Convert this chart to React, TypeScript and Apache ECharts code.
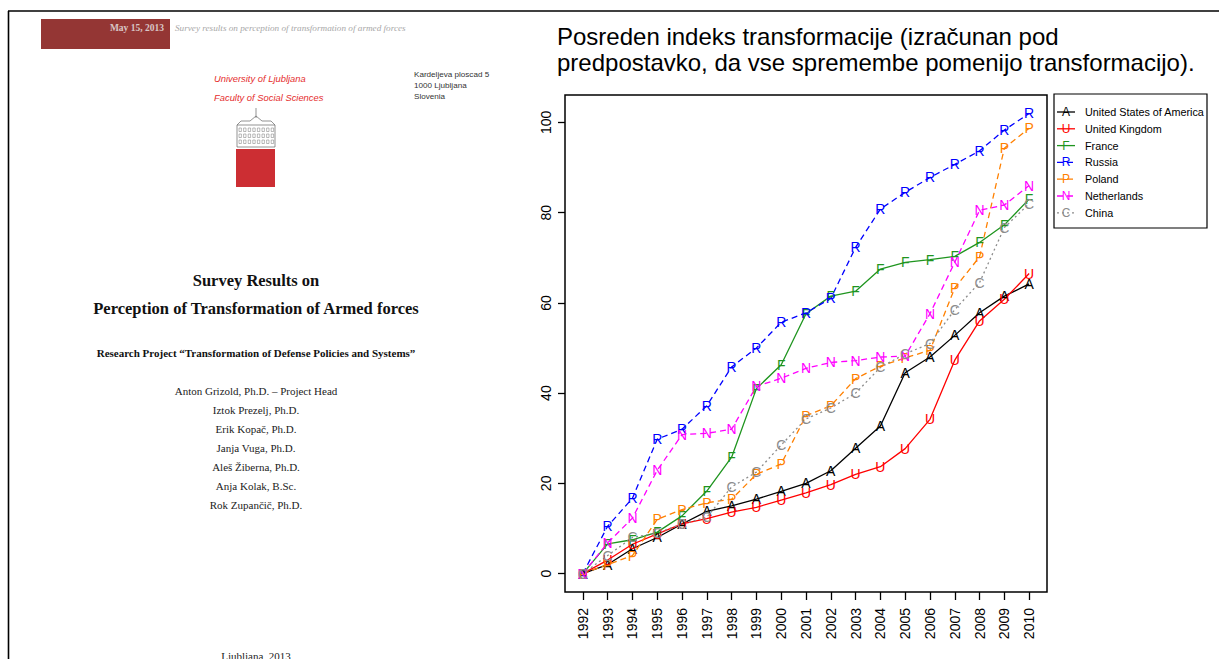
import React, { useEffect, useRef } from "react";
import * as echarts from "echarts";

const years = [1992, 1993, 1994, 1995, 1996, 1997, 1998, 1999, 2000, 2001, 2002, 2003, 2004, 2005, 2006, 2007, 2008, 2009, 2010];
const yTicks = [0, 20, 40, 60, 80, 100];

const usa = [0, 2, 5.5, 8, 11, 13.8, 15, 16.5, 18.2, 20, 22.8, 27.8, 32.7, 44.5, 48, 52.8, 57.8, 61.5, 64.2];
const uk = [0, 3, 6.5, 8.8, 11, 12.2, 13.6, 14.7, 16.3, 17.9, 19.7, 22, 23.7, 27.7, 34.2, 47.3, 56, 60.8, 66.5];
const france = [0, 6.6, 7.5, 9.2, 12.8, 18.3, 25.8, 41, 46.3, 57.6, 61.5, 62.6, 67.5, 69, 69.6, 70.3, 73.4, 77.3, 83];
const russia = [0, 10.5, 16.7, 29.8, 32, 37.2, 45.8, 50, 55.7, 57.8, 61, 72.3, 80.8, 84.5, 87.8, 90.7, 93.7, 98.3, 102];
const poland = [0, 2, 4, 12, 14.2, 15.7, 16.5, 22, 24.3, 35, 37.2, 43.2, 46, 47.8, 49.5, 63.3, 70.2, 94.3, 98.7];
const netherlands = [0, 6.8, 12.3, 22.9, 30.8, 31.1, 32, 41.5, 43.3, 45.5, 46.8, 47.2, 48, 48.2, 57.6, 69, 80.5, 81.7, 86];
const china = [0, 4, 8, 9, 11, 12.5, 19.2, 22.5, 28.5, 34.3, 36.7, 40, 45.7, 48.7, 51, 58.5, 64.5, 76.7, 82];

const seriesDefs = [
  { name: "United States of America", letter: "A", color: "#000000", dash: "solid", data: usa },
  { name: "United Kingdom", letter: "U", color: "#ff0000", dash: "solid", data: uk },
  { name: "France", letter: "F", color: "#1f951f", dash: "solid", data: france },
  { name: "Russia", letter: "R", color: "#0000ff", dash: [6, 4], data: russia },
  { name: "Poland", letter: "P", color: "#ff8000", dash: [6, 4], data: poland },
  { name: "Netherlands", letter: "N", color: "#ff00ff", dash: [6, 4], data: netherlands },
  { name: "China", letter: "C", color: "#8c8c8c", dash: [2, 3], data: china },
];

const titleLines = [
  "Posreden indeks transformacije (izračunan pod",
  "predpostavko, da vse spremembe pomenijo transformacijo).",
];

const authors = [
  "Anton Grizold, Ph.D. – Project Head",
  "Iztok Prezelj, Ph.D.",
  "Erik Kopač, Ph.D.",
  "Janja Vuga, Ph.D.",
  "Aleš Žiberna, Ph.D.",
  "Anja Kolak, B.Sc.",
  "Rok Zupančič, Ph.D.",
];

const address = ["Kardeljeva ploscad 5", "1000 Ljubljana", "Slovenia"];

export default function App() {
  const ref = useRef<HTMLDivElement>(null);
  useEffect(() => {
    if (!ref.current) return;
    const chart = echarts.init(ref.current, undefined, { renderer: "svg" });
    const sans = "'Liberation Sans', Arial, sans-serif";
    const serif = "'Liberation Serif', 'Times New Roman', serif";

    const graphics: any[] = [];
    // outer page frame
    graphics.push({ type: "line", shape: { x1: 8, y1: 11, x2: 1219, y2: 11 }, style: { stroke: "#000", lineWidth: 1.6 } });
    graphics.push({ type: "line", shape: { x1: 8.5, y1: 11, x2: 8.5, y2: 659 }, style: { stroke: "#000", lineWidth: 1.6 } });
    // banner
    graphics.push({ type: "rect", shape: { x: 41, y: 19, width: 129, height: 30 }, style: { fill: "#943634" } });
    graphics.push({ type: "text", x: 164, y: 28, style: { text: "May 15, 2013", fill: "#d9c6c6", font: `bold 9.5px ${serif}`, textAlign: "right", textVerticalAlign: "middle" } });
    graphics.push({ type: "text", x: 175, y: 28, style: { text: "Survey results on perception of transformation of armed forces", fill: "#a8a8a8", font: `italic 9.2px ${serif}`, textAlign: "left", textVerticalAlign: "middle" } });
    graphics.push({ type: "text", x: 214, y: 78, style: { text: "University of Ljubljana", fill: "#e52d2d", font: `italic 9.4px ${sans}`, textAlign: "left", textVerticalAlign: "middle" } });
    graphics.push({ type: "text", x: 214, y: 97, style: { text: "Faculty of Social Sciences", fill: "#e52d2d", font: `italic 9.4px ${sans}`, textAlign: "left", textVerticalAlign: "middle" } });
    address.forEach((t, i) => {
      graphics.push({ type: "text", x: 414, y: 74 + i * 11.3, style: { text: t, fill: "#333", font: `8.1px ${sans}`, textAlign: "left", textVerticalAlign: "middle" } });
    });
    // logo building
    const g = "#666";
    graphics.push({ type: "rect", shape: { x: 237, y: 125, width: 38, height: 22 }, style: { fill: "none", stroke: g, lineWidth: 0.7 } });
    graphics.push({ type: "polyline", shape: { points: [[237, 125], [241, 121], [250, 121], [256, 116], [262, 121], [271, 121], [275, 125]] }, style: { fill: "none", stroke: g, lineWidth: 0.7 } });
    graphics.push({ type: "line", shape: { x1: 256, y1: 108, x2: 256, y2: 118 }, style: { stroke: g, lineWidth: 0.7 } });
    for (let r = 0; r < 3; r++) {
      for (let c = 0; c < 8; c++) {
        graphics.push({ type: "rect", shape: { x: 239 + c * 4.6, y: 128 + r * 6, width: 2.4, height: 3.5 }, style: { fill: "none", stroke: "#777", lineWidth: 0.5 } });
      }
    }
    graphics.push({ type: "rect", shape: { x: 236, y: 149, width: 39, height: 38 }, style: { fill: "#cc2e33" } });
    // doc titles
    graphics.push({ type: "text", x: 256, y: 280, style: { text: "Survey Results on", fill: "#111", font: `bold 16.5px ${serif}`, textAlign: "center", textVerticalAlign: "middle" } });
    graphics.push({ type: "text", x: 256, y: 308.5, style: { text: "Perception of Transformation of Armed forces", fill: "#111", font: `bold 16.5px ${serif}`, textAlign: "center", textVerticalAlign: "middle" } });
    graphics.push({ type: "text", x: 256, y: 353, style: { text: "Research Project “Transformation of Defense Policies and Systems”", fill: "#111", font: `bold 11px ${serif}`, textAlign: "center", textVerticalAlign: "middle" } });
    authors.forEach((t, i) => {
      graphics.push({ type: "text", x: 256, y: 391 + i * 19, style: { text: t, fill: "#222", font: `11px ${serif}`, textAlign: "center", textVerticalAlign: "middle" } });
    });
    graphics.push({ type: "text", x: 256, y: 656, style: { text: "Ljubljana, 2013", fill: "#222", font: `11px ${serif}`, textAlign: "center", textVerticalAlign: "middle" } });

    // chart title
    titleLines.forEach((t, i) => {
      graphics.push({ type: "text", x: 557, y: 36 + i * 26, style: { text: t, fill: "#000", font: `24px ${sans}`, textAlign: "left", textVerticalAlign: "middle" } });
    });

    // legend
    graphics.push({ type: "rect", shape: { x: 1054, y: 94, width: 153, height: 134 }, style: { fill: "#fff", stroke: "#000", lineWidth: 1.2 } });
    seriesDefs.forEach((s, i) => {
      const y = 112 + i * 16.8;
      graphics.push({ type: "line", shape: { x1: 1057, y1: y, x2: 1075, y2: y }, style: { stroke: s.color, lineWidth: 1.3, lineDash: s.dash === "solid" ? null : s.dash } });
      graphics.push({ type: "text", x: 1066, y: y, style: { text: s.letter, fill: s.color, font: `12px ${sans}`, textAlign: "center", textVerticalAlign: "middle" } });
      graphics.push({ type: "text", x: 1085, y: y, style: { text: s.name, fill: "#000", font: `10.8px ${sans}`, textAlign: "left", textVerticalAlign: "middle" } });
    });

    chart.setOption({
      animation: false,
      backgroundColor: "#fff",
      grid: { left: 565, right: 172, top: 95, bottom: 67, show: true, borderColor: "#000", borderWidth: 1.5, backgroundColor: "transparent" },
      xAxis: {
        type: "value",
        min: 1991.28,
        max: 2010.72,
        axisLine: { show: false, onZero: false },
        splitLine: { show: false },
        axisTick: { show: true, length: 8, lineStyle: { color: "#000", width: 1.3 }, customValues: years },
        axisLabel: { show: true, rotate: 90, margin: 16, fontSize: 14, color: "#000", fontFamily: sans, customValues: years, formatter: (v: number) => String(v) },
      },
      yAxis: {
        type: "value",
        min: -4.08,
        max: 106.08,
        axisLine: { show: false, onZero: false },
        splitLine: { show: false },
        axisTick: { show: true, length: 7, lineStyle: { color: "#000", width: 1.3 }, customValues: yTicks },
        axisLabel: { show: true, rotate: 90, margin: 12, fontSize: 14, color: "#000", fontFamily: sans, customValues: yTicks, formatter: (v: number) => String(v) },
      },
      series: seriesDefs.map((s) => ({
        type: "line",
        name: s.name,
        data: years.map((y, i) => [y, s.data[i]]),
        symbol: "circle",
        symbolSize: 1,
        itemStyle: { color: "rgba(0,0,0,0)" },
        lineStyle: { color: s.color, width: 1.3, type: s.dash },
        label: { show: true, position: "inside", formatter: s.letter, color: s.color, fontSize: 14, fontFamily: sans },
        emphasis: { disabled: true },
      })),
      graphic: graphics,
    });
    return () => chart.dispose();
  }, []);
  return <div ref={ref} style={{ position: "fixed", left: 0, top: 0, width: 1219, height: 659 }} />;
}
